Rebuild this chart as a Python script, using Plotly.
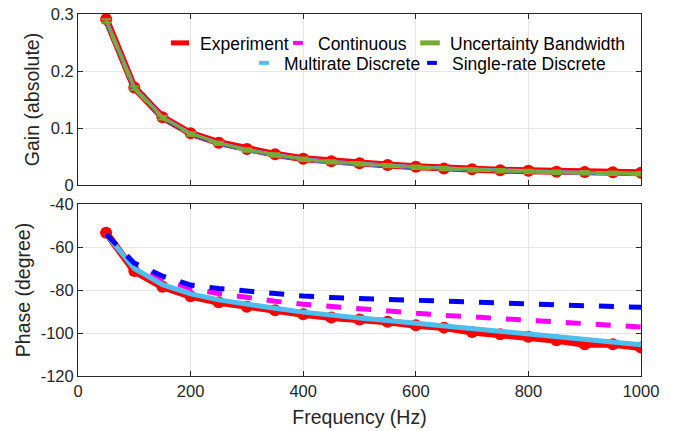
import plotly.graph_objects as go

freq = [50, 100, 150, 200, 250, 300, 350, 400, 450, 500,
        550, 600, 650, 700, 750, 800, 850, 900, 950, 1000]

gain_exp = [0.291, 0.171, 0.119, 0.0906, 0.0743, 0.063, 0.0538, 0.046, 0.0415, 0.038,
            0.035, 0.032, 0.029, 0.0275, 0.026, 0.025, 0.0234, 0.0228, 0.0222, 0.0216]
gain_cont = [0.288, 0.170, 0.118, 0.0895, 0.0730, 0.0615, 0.0527, 0.0452, 0.0405, 0.0370,
             0.0340, 0.0312, 0.0288, 0.0268, 0.0251, 0.0237, 0.0225, 0.0214, 0.0205, 0.0197]
gain_unc = [0.288, 0.170, 0.118, 0.0895, 0.0730, 0.0615, 0.0527, 0.0452, 0.0405, 0.0370,
            0.0340, 0.0312, 0.0288, 0.0268, 0.0251, 0.0237, 0.0225, 0.0214, 0.0205, 0.0197]
gain_unc_err = [0.003, 0.003, 0.003, 0.003, 0.003, 0.003, 0.003, 0.003, 0.003, 0.003,
                0.003, 0.003, 0.003, 0.003, 0.003, 0.003, 0.003, 0.003, 0.003, 0.003]
gain_multi = [0.288, 0.170, 0.118, 0.0895, 0.0730, 0.0615, 0.0527, 0.0452, 0.0405, 0.0370,
              0.0340, 0.0312, 0.0288, 0.0268, 0.0251, 0.0237, 0.0225, 0.0214, 0.0205, 0.0197]
gain_single = [0.287, 0.169, 0.117, 0.0888, 0.0724, 0.0610, 0.0523, 0.0449, 0.0402, 0.0367,
               0.0337, 0.0309, 0.0285, 0.0265, 0.0248, 0.0234, 0.0222, 0.0211, 0.0202, 0.0194]

phase_exp = [-53.4, -71.2, -78.5, -82.9, -85.7, -87.8, -89.4, -91.3, -92.8, -93.7,
             -94.8, -96.4, -97.5, -99.5, -100.6, -101.8, -103.4, -105.2, -105.2, -106.8]
phase_cont = [-54.0, -68.5, -75.0, -79.3, -81.6, -83.5, -85.2, -86.6, -87.7, -88.7,
              -89.8, -91.0, -91.8, -92.5, -93.3, -94.1, -94.9, -95.7, -96.5, -97.2]
phase_multi = [-54.0, -70.0, -77.5, -81.8, -84.6, -86.8, -88.5, -90.3, -91.8, -93.0,
               -94.2, -95.5, -96.7, -98.0, -99.2, -100.4, -101.7, -103.0, -104.3, -105.5]
phase_single = [-54.0, -67.5, -73.5, -77.7, -79.3, -80.5, -81.7, -82.8, -83.5, -84.0,
                -84.5, -84.9, -85.3, -85.7, -86.1, -86.5, -86.9, -87.3, -87.6, -88.0]

x_ticks = [0, 200, 400, 600, 800, 1000]
gain_ticks = [0, 0.1, 0.2, 0.3]
gain_tick_text = ["0", "0.1", "0.2", "0.3"]
phase_ticks = [-120, -100, -80, -60, -40]
phase_tick_text = ["-120", "-100", "-80", "-60", "-40"]

RED = "#FF0000"
MAG = "#FF00FF"
GREEN = "#77AC30"
CYAN = "#4DBEEE"
BLUE = "#0000FF"

fig = go.Figure()

# ---- Gain panel (data traces) ----
fig.add_trace(go.Scatter(x=freq, y=gain_exp, name="Experiment", mode="lines+markers",
                         line=dict(color=RED, width=7), marker=dict(color=RED, size=12, symbol="circle"),
                         xaxis="x", yaxis="y", showlegend=False))
fig.add_trace(go.Scatter(x=freq, y=gain_cont, name="Continuous", mode="lines",
                         line=dict(color=MAG, width=4, dash="15px,15px"),
                         xaxis="x", yaxis="y", showlegend=False))
fig.add_trace(go.Scatter(x=freq, y=gain_multi, name="Multirate Discrete", mode="lines",
                         line=dict(color=CYAN, width=4),
                         xaxis="x", yaxis="y", showlegend=False))
fig.add_trace(go.Scatter(x=freq, y=gain_single, name="Single-rate Discrete", mode="lines",
                         line=dict(color=BLUE, width=3, dash="15px,15px"),
                         xaxis="x", yaxis="y", showlegend=False))
fig.add_trace(go.Scatter(x=freq, y=gain_unc, name="Uncertainty Bandwidth", mode="lines",
                         line=dict(color=GREEN, width=3),
                         error_y=dict(type="data", array=gain_unc_err, color=GREEN, thickness=2, width=5),
                         xaxis="x", yaxis="y", showlegend=False))

# ---- Phase panel ----
fig.add_trace(go.Scatter(x=freq, y=phase_exp, name="Experiment", mode="lines+markers",
                         line=dict(color=RED, width=7), marker=dict(color=RED, size=12),
                         xaxis="x2", yaxis="y2", showlegend=False))
fig.add_trace(go.Scatter(x=freq, y=phase_cont, name="Continuous", mode="lines",
                         line=dict(color=MAG, width=5, dash="15px,15px"),
                         xaxis="x2", yaxis="y2", showlegend=False))
fig.add_trace(go.Scatter(x=freq, y=phase_multi, name="Multirate Discrete", mode="lines",
                         line=dict(color=CYAN, width=5),
                         xaxis="x2", yaxis="y2", showlegend=False))
fig.add_trace(go.Scatter(x=freq, y=phase_single, name="Single-rate Discrete", mode="lines",
                         line=dict(color=BLUE, width=5, dash="15px,15px"),
                         xaxis="x2", yaxis="y2", showlegend=False))

# ---- Legend entries (short MATLAB-like icons) ----
legend_items = [
    ("Experiment", RED, 13, 10, "legend"),
    ("Continuous", MAG, 7, 4, "legend2"),
    ("Uncertainty Bandwidth", GREEN, 14, 6, "legend3"),
    ("Multirate Discrete", CYAN, 7, 4, "legend4"),
    ("Single-rate Discrete", BLUE, 7, 4, "legend5"),
]
for name, col, sz, lw, leg in legend_items:
    mk = dict(symbol="line-ew", size=sz, color=col, line=dict(color=col, width=lw))
    fig.add_trace(go.Scatter(x=[None], y=[None], name=name, mode="markers", marker=mk,
                             xaxis="x", yaxis="y", legend=leg, showlegend=True, hoverinfo="skip"))

FONT = "Liberation Sans, Arial, sans-serif"
axcol = "#262626"
common_x = dict(range=[0, 1000], tickvals=x_ticks, ticks="inside", ticklen=5, tickcolor=axcol,
                showline=True, linecolor=axcol, linewidth=1, mirror="ticks", automargin=False,
                showgrid=True, gridcolor="#E6E6E6", gridwidth=1, zeroline=False,
                tickfont=dict(family=FONT, size=16.5, color=axcol))
common_y = dict(ticks="inside", ticklen=5, tickcolor=axcol, automargin=False,
                showline=True, linecolor=axcol, linewidth=1, mirror="ticks",
                showgrid=True, gridcolor="#E6E6E6", gridwidth=1, zeroline=False,
                tickfont=dict(family=FONT, size=16.5, color=axcol))

W, H = 676, 431
ml, mr, mt, mb = 78, 35, 14, 55
pw = W - ml - mr
ph = H - mt - mb


def py2paper(py):
    return (H - mb - py) / ph


def px2paper(px):
    return (px - ml) / pw


fig.update_layout(
    width=W, height=H,
    margin=dict(l=ml, r=mr, t=mt, b=mb, autoexpand=False),
    paper_bgcolor="white", plot_bgcolor="white",
    font=dict(family=FONT, color=axcol),
    xaxis=dict(**common_x, domain=[0, 1], anchor="y", showticklabels=False),
    yaxis=dict(**common_y, domain=[py2paper(185), 1], range=[0, 0.3], tickvals=gain_ticks,
               ticktext=gain_tick_text,
               title=dict(text="Gain (absolute)", font=dict(family=FONT, size=19.5, color=axcol), standoff=5)),
    xaxis2=dict(**common_x, domain=[0, 1], anchor="y2",
                title=dict(text="Frequency (Hz)", font=dict(family=FONT, size=19.5, color=axcol), standoff=11)),
    yaxis2=dict(**common_y, domain=[0, py2paper(204)], range=[-120, -40], tickvals=phase_ticks,
                ticktext=phase_tick_text,
                title=dict(text="Phase (degree)", font=dict(family=FONT, size=19.5, color=axcol), standoff=4)),
    showlegend=True,
)

leg_common = dict(orientation="h", xanchor="left", yanchor="middle", bgcolor="rgba(0,0,0,0)",
                  borderwidth=0, font=dict(family=FONT, size=17.5, color="#000000"), itemwidth=30)
fig.update_layout(
    legend=dict(**leg_common, x=px2paper(200 - 40), y=py2paper(43)),
    legend2=dict(**leg_common, x=px2paper(318 - 40), y=py2paper(43)),
    legend3=dict(**leg_common, x=px2paper(450 - 40), y=py2paper(43)),
    legend4=dict(**leg_common, x=px2paper(284 - 40), y=py2paper(63)),
    legend5=dict(**leg_common, x=px2paper(452 - 40), y=py2paper(63)),
)

fig.write_html("out.html", config={"displayModeBar": False},
               post_script="document.body.style.margin='0px';")
